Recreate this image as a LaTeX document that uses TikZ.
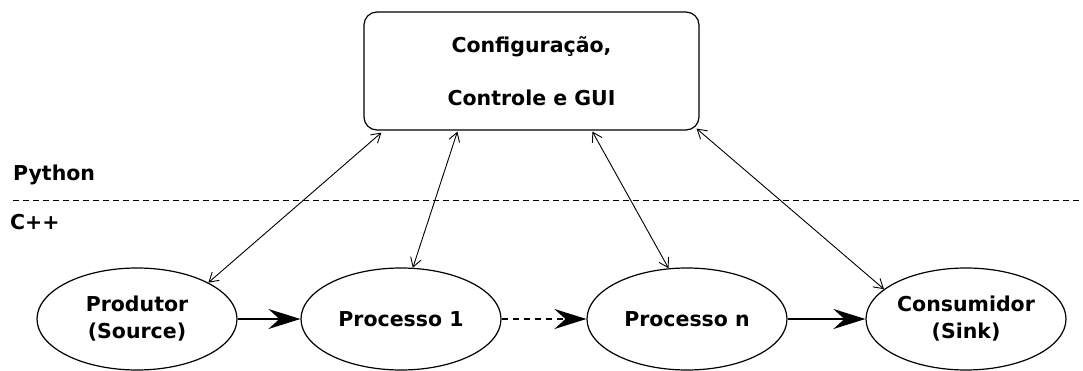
\documentclass[tikz,border=0pt]{standalone}
\usepackage{fontspec}
\setmainfont{DejaVu Sans}
\usetikzlibrary{arrows.meta,shapes.geometric}

\begin{document}
\begin{tikzpicture}[x=1pt,y=-1pt,
  lbl/.style={font=\fontsize{20.5}{27}\selectfont\bfseries, inner sep=0pt},
  stage/.style={ellipse, draw, line width=1.2pt, minimum width=200pt,
    minimum height=102pt, inner sep=0pt, align=center,
    font=\fontsize{20.5}{27}\selectfont\bfseries},
  ctrl/.style={draw, rounded corners=13pt, line width=1.2pt,
    minimum width=335pt, minimum height=118pt, inner sep=0pt, align=center,
    font=\fontsize{20.5}{53}\selectfont\bfseries},
  flow/.style={line width=1.5pt, -{Stealth[length=32pt,width=20pt,inset=11pt]}},
  link/.style={line width=0.9pt,
    {Straight Barb[length=9pt,width=11pt]}-{Straight Barb[length=9pt,width=11pt]}},
  layer/.style={dash pattern=on 6pt off 4pt, line width=1pt}]

\useasboundingbox (0,0) rectangle (1083,371);

% control layer
\node[ctrl] (ctl) at (531.5,71) {Configuração,\\Controle e GUI};

% layer labels and divider
\node[lbl, anchor=west] (py) at (13,175) {Python};
\node[lbl, anchor=west] (cpp) at (10,222) {C++};
\coordinate (sepL) at (13,201);
\coordinate (sepR) at (1083,201);
\draw[layer] (sepL) -- (sepR);

% processing chain
\node[stage] (prod) at (137,319) {Produtor\\(Source)};
\node[stage] (p1)   at (401,319) {Processo 1};
\node[stage] (pn)   at (687,319) {Processo n};
\node[stage] (cons) at (966,319) {Consumidor\\(Sink)};

\draw[flow] (prod) -- (p1);
\draw[flow, dash pattern=on 6pt off 5pt] (p1) -- (pn);
\draw[flow] (pn) -- (cons);

% control links
\coordinate (t1) at ([xshift=18pt,yshift=-2pt]ctl.south west);
\coordinate (t2) at ([xshift=94pt,yshift=-1pt]ctl.south west);
\coordinate (t3) at ([xshift=229pt,yshift=-1pt]ctl.south west);
\coordinate (t4) at ([xshift=-3pt,yshift=2pt]ctl.south east);

\draw[link] (t1) -- (prod.27);
\draw[link] (t2) -- (p1.77);
\draw[link] (t3) -- (pn.110);
\draw[link] (t4) -- (cons.160);
\end{tikzpicture}
\end{document}
